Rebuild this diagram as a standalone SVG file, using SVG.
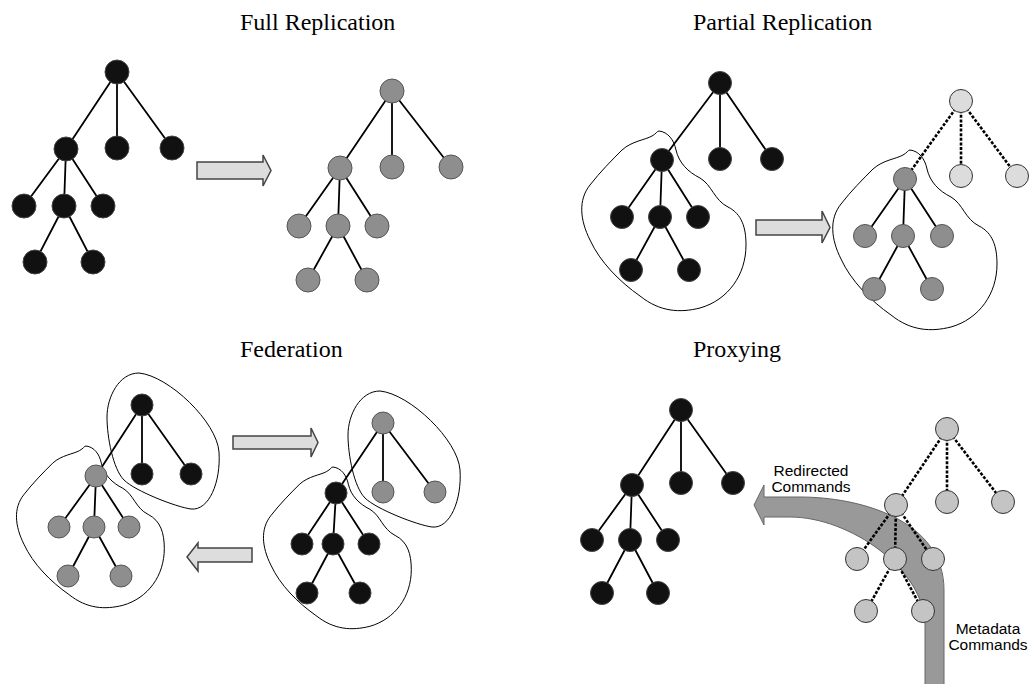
<svg xmlns="http://www.w3.org/2000/svg" width="1030" height="684" viewBox="0 0 1030 684">
<style>
.e{stroke:#000;stroke-width:1.8;fill:none}
.d{stroke:#000;stroke-width:2.6;stroke-dasharray:3 1.6;fill:none}
.nb{fill:#111;stroke:#444;stroke-width:1}
.ng{fill:#8e8e8e;stroke:#555;stroke-width:1}
.nl{fill:#dcdcdc;stroke:#333;stroke-width:1}
.np{fill:#c4c4c4;stroke:#333;stroke-width:1}
.outline{fill:none;stroke:#000;stroke-width:1}
.arr{fill:#dddddd;stroke:#444;stroke-width:1.5}
.band{fill:#999;stroke:#666;stroke-width:1}
.title{font-family:"Liberation Serif",serif;font-size:24px;fill:#000}
.lbl{font-family:"Liberation Sans",Arial,sans-serif;font-size:15.5px;fill:#000;text-anchor:middle}
</style>
<defs>
<path id="blob" class="outline" vector-effect="non-scaling-stroke" d="M0,0 C9,1 15,9 17,19 C20,32 29,41 41,47 C53,54 55,69 69,76 C83,83 87,97 87,114 C87,144 69,169 41,177 C21,182 1,181 -19,165 C-39,151 -59,131 -69,109 C-79,89 -81,69 -69,54 C-59,41 -47,29 -37,19 C-27,10 -14,9 -7,5 C-3,3 -2,0 0,0 Z"/>
<path id="egg" class="outline" d="M0,0 C30,3 78,49 80,79 C82,109 70,138 52,136 C37,134 -4,118 -15,107 C-26,96 -32,64 -32,44 C-32,24 -20,0 0,0 Z"/>
</defs>

<g id="titles">
<text class="title" x="240" y="30">Full Replication</text>
<text class="title" x="693" y="30">Partial Replication</text>
<text class="title" x="240" y="357">Federation</text>
<text class="title" x="693" y="357">Proxying</text>
</g>

<g id="regions">
<use href="#blob" transform="translate(659,131)"/>
<use href="#blob" transform="translate(910,150)"/>
<use href="#blob" transform="translate(86,446) scale(0.9)"/>
<use href="#blob" transform="translate(333,467) scale(0.9)"/>
<use href="#egg" transform="translate(139,373)"/>
<use href="#egg" transform="translate(380,391)"/>
</g>

<g id="arrows">
<path class="arr" d="M197,162 H263 V155 L271,170.5 L263,186 V179 H197 Z"/>
<path class="arr" d="M756,220 H822 V211 L830,227.5 L822,243 V235 H756 Z"/>
<path class="arr" d="M233,436 H311 V428 L318,442.5 L311,457 V449 H233 Z"/>
<path class="arr" d="M252,548 H198 V543 L187,557 L198,571 V562 H252 Z"/>
<path id="band" class="band" d="M764,497 H800 C860,497 944,520 944,590 V690 H925 V625 C925,570 850,517 790,517 H764 V525 L754,505 L764,485 Z"/>
</g>

<g id="connectors">
<!-- full left -->
<path class="e" d="M117,72 L66,149 M117,72 L117,148 M117,72 L172,148 M66,149 L24,206 M66,149 L64,206 M66,149 L103,206 M64,206 L35,262 M64,206 L93,262"/>
<!-- full right -->
<path class="e" d="M392,91 L340,168 M392,91 L392,167 M392,91 L451,167 M340,168 L299,226 M340,168 L338,226 M340,168 L377,226 M338,226 L308,280 M338,226 L367,280"/>
<!-- partial left -->
<path class="e" d="M720,83 L662,160 M720,83 L720,159 M720,83 L772,159 M662,160 L622,217 M662,160 L660,217 M662,160 L698,217 M660,217 L631,270 M660,217 L689,270"/>
<!-- partial right -->
<path class="d" d="M961,101 L905,179 M961,101 L961,176 M961,101 L1017,176"/>
<path class="e" d="M905,179 L865,236 M905,179 L903,236 M905,179 L942,236 M903,236 L874,289 M903,236 L932,289"/>
<!-- federation left -->
<path class="e" d="M142,405 L142,474 M142,405 L191,474 M142,405 L96,476 M96,476 L59,527 M96,476 L94,527 M96,476 L129,527 M94,527 L68,576 M94,527 L121,576"/>
<!-- federation right -->
<path class="e" d="M383,423 L383,492 M383,423 L435,492 M383,423 L336,493 M336,493 L302,544 M336,493 L333,544 M336,493 L369,544 M333,544 L307,593 M333,544 L360,593"/>
<!-- proxy left -->
<path class="e" d="M681,410 L632,485 M681,410 L681,483 M681,410 L733,483 M632,485 L592,540 M632,485 L630,540 M632,485 L668,540 M630,540 L602,593 M630,540 L658,593"/>
<!-- proxy right -->
<path class="d" d="M947,429 L896,505 M947,429 L947,502 M947,429 L1003,502 M896,505 L857,559 M896,505 L895,559 M896,505 L933,559 M895,559 L866,611 M895,559 L923,611"/>
</g>

<g id="fa0"><circle class="nb" cx="117" cy="72" r="12"/></g>
<g id="fa1"><circle class="nb" cx="66" cy="149" r="12"/></g>
<g id="fa2"><circle class="nb" cx="117" cy="148" r="12"/></g>
<g id="fa3"><circle class="nb" cx="172" cy="148" r="12"/></g>
<g id="fa4"><circle class="nb" cx="24" cy="206" r="12"/></g>
<g id="fa5"><circle class="nb" cx="64" cy="206" r="12"/></g>
<g id="fa6"><circle class="nb" cx="103" cy="206" r="12"/></g>
<g id="fa7"><circle class="nb" cx="35" cy="262" r="12"/></g>
<g id="fa8"><circle class="nb" cx="93" cy="262" r="12"/></g>

<g id="fb0"><circle class="ng" cx="392" cy="91" r="12"/></g>
<g id="fb1"><circle class="ng" cx="340" cy="168" r="12"/></g>
<g id="fb2"><circle class="ng" cx="392" cy="167" r="12"/></g>
<g id="fb3"><circle class="ng" cx="451" cy="167" r="12"/></g>
<g id="fb4"><circle class="ng" cx="299" cy="226" r="12"/></g>
<g id="fb5"><circle class="ng" cx="338" cy="226" r="12"/></g>
<g id="fb6"><circle class="ng" cx="377" cy="226" r="12"/></g>
<g id="fb7"><circle class="ng" cx="308" cy="280" r="12"/></g>
<g id="fb8"><circle class="ng" cx="367" cy="280" r="12"/></g>

<g id="pa0"><circle class="nb" cx="720" cy="83" r="11.5"/></g>
<g id="pa1"><circle class="nb" cx="662" cy="160" r="11.5"/></g>
<g id="pa2"><circle class="nb" cx="720" cy="159" r="11.5"/></g>
<g id="pa3"><circle class="nb" cx="772" cy="159" r="11.5"/></g>
<g id="pa4"><circle class="nb" cx="622" cy="217" r="11.5"/></g>
<g id="pa5"><circle class="nb" cx="660" cy="217" r="11.5"/></g>
<g id="pa6"><circle class="nb" cx="698" cy="217" r="11.5"/></g>
<g id="pa7"><circle class="nb" cx="631" cy="270" r="11.5"/></g>
<g id="pa8"><circle class="nb" cx="689" cy="270" r="11.5"/></g>

<g id="pb0"><circle class="nl" cx="961" cy="101" r="11.5"/></g>
<g id="pb1"><circle class="ng" cx="905" cy="179" r="11.5"/></g>
<g id="pb2"><circle class="nl" cx="961" cy="176" r="11.5"/></g>
<g id="pb3"><circle class="nl" cx="1017" cy="176" r="11.5"/></g>
<g id="pb4"><circle class="ng" cx="865" cy="236" r="11.5"/></g>
<g id="pb5"><circle class="ng" cx="903" cy="236" r="11.5"/></g>
<g id="pb6"><circle class="ng" cx="942" cy="236" r="11.5"/></g>
<g id="pb7"><circle class="ng" cx="874" cy="289" r="11.5"/></g>
<g id="pb8"><circle class="ng" cx="932" cy="289" r="11.5"/></g>

<g id="ea0"><circle class="nb" cx="142" cy="405" r="11"/></g>
<g id="ea1"><circle class="nb" cx="142" cy="474" r="11"/></g>
<g id="ea2"><circle class="nb" cx="191" cy="474" r="11"/></g>
<g id="ea3"><circle class="ng" cx="96" cy="476" r="11"/></g>
<g id="ea4"><circle class="ng" cx="59" cy="527" r="11"/></g>
<g id="ea5"><circle class="ng" cx="94" cy="527" r="11"/></g>
<g id="ea6"><circle class="ng" cx="129" cy="527" r="11"/></g>
<g id="ea7"><circle class="ng" cx="68" cy="576" r="11"/></g>
<g id="ea8"><circle class="ng" cx="121" cy="576" r="11"/></g>

<g id="eb0"><circle class="ng" cx="383" cy="423" r="11"/></g>
<g id="eb1"><circle class="ng" cx="383" cy="492" r="11"/></g>
<g id="eb2"><circle class="ng" cx="435" cy="492" r="11"/></g>
<g id="eb3"><circle class="nb" cx="336" cy="493" r="11"/></g>
<g id="eb4"><circle class="nb" cx="302" cy="544" r="11"/></g>
<g id="eb5"><circle class="nb" cx="333" cy="544" r="11"/></g>
<g id="eb6"><circle class="nb" cx="369" cy="544" r="11"/></g>
<g id="eb7"><circle class="nb" cx="307" cy="593" r="11"/></g>
<g id="eb8"><circle class="nb" cx="360" cy="593" r="11"/></g>

<g id="xa0"><circle class="nb" cx="681" cy="410" r="11.5"/></g>
<g id="xa1"><circle class="nb" cx="632" cy="485" r="11.5"/></g>
<g id="xa2"><circle class="nb" cx="681" cy="483" r="11.5"/></g>
<g id="xa3"><circle class="nb" cx="733" cy="483" r="11.5"/></g>
<g id="xa4"><circle class="nb" cx="592" cy="540" r="11.5"/></g>
<g id="xa5"><circle class="nb" cx="630" cy="540" r="11.5"/></g>
<g id="xa6"><circle class="nb" cx="668" cy="540" r="11.5"/></g>
<g id="xa7"><circle class="nb" cx="602" cy="593" r="11.5"/></g>
<g id="xa8"><circle class="nb" cx="658" cy="593" r="11.5"/></g>

<g id="xb0"><circle class="np" cx="947" cy="429" r="11.5"/></g>
<g id="xb1"><circle class="np" cx="896" cy="505" r="11.5"/></g>
<g id="xb2"><circle class="np" cx="947" cy="502" r="11.5"/></g>
<g id="xb3"><circle class="np" cx="1003" cy="502" r="11.5"/></g>
<g id="xb4"><circle class="np" cx="857" cy="559" r="11.5"/></g>
<g id="xb5"><circle class="np" cx="895" cy="559" r="11.5"/></g>
<g id="xb6"><circle class="np" cx="933" cy="559" r="11.5"/></g>
<g id="xb7"><circle class="np" cx="866" cy="611" r="11.5"/></g>
<g id="xb8"><circle class="np" cx="923" cy="611" r="11.5"/></g>

<g id="labels">
<text class="lbl" x="811" y="476">Redirected</text>
<text class="lbl" x="811" y="492">Commands</text>
<text class="lbl" x="988" y="634">Metadata</text>
<text class="lbl" x="988" y="650">Commands</text>
</g>
</svg>
